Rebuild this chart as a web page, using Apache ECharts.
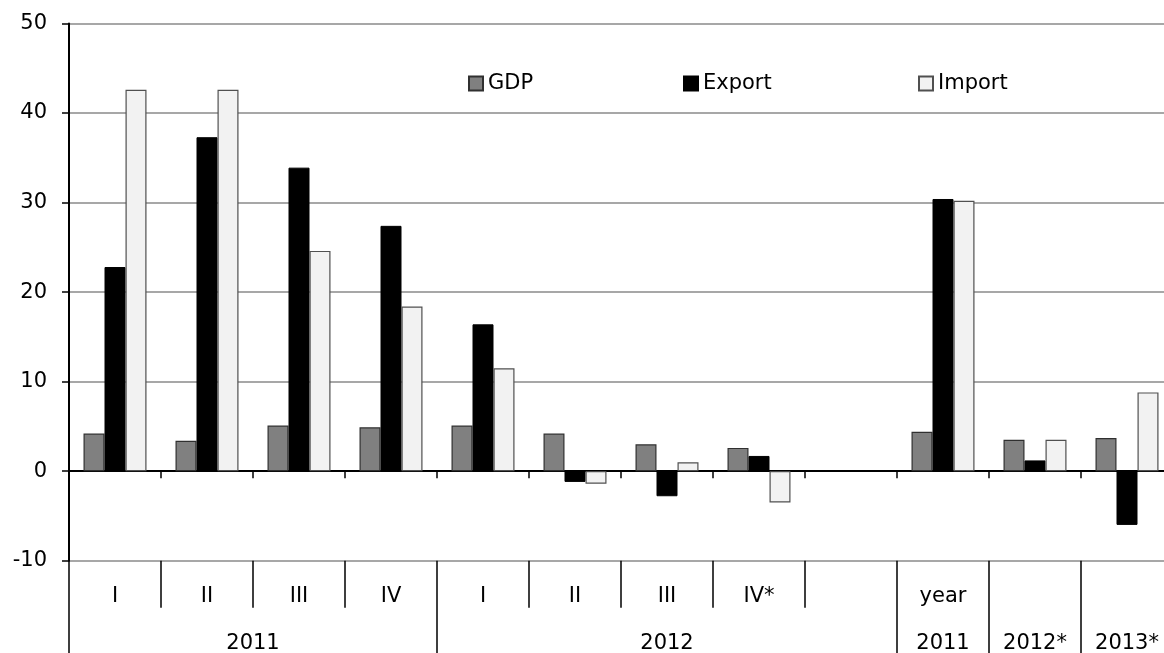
<!DOCTYPE html>
<html>
<head>
<meta charset="utf-8">
<script src="https://cdn.jsdelivr.net/npm/echarts@6/dist/echarts.min.js"></script>
<style>
html,body{margin:0;padding:0;background:#fff;overflow:hidden;}
#chart{width:1164px;height:653px;}
</style>
</head>
<body>
<div id="chart"></div>
<script>
// Data
const categories = ['I','II','III','IV','I','II','III','IV*','','year','',''];
const groupLabels = ['2011','2012','2011','2012*','2013*'];
const groupCenters = [2, 6.5, 9.5, 10.5, 11.5];
const groupBounds = [0, 4, 9, 10, 11];
const gdp     = [4.2, 3.4, 5.1, 4.9, 5.1, 4.2, 3.0, 2.6, null, 4.4, 3.5, 3.7];
const exportV = [22.8, 37.3, 33.9, 27.4, 16.4, -1.2, -2.8, 1.7, null, 30.4, 1.2, -6.0];
const importV = [42.6, 42.6, 24.6, 18.4, 11.5, -1.4, 1.0, -3.5, null, 30.2, 3.5, 8.8];
const yTicks = {min: -10, max: 50, interval: 10};

const FONT = 'DejaVu Sans';
const FS = 21;
const idx = categories.map((c, i) => i);

const chart = echarts.init(document.getElementById('chart'), null, {renderer: 'canvas'});
const legendBase = {
  top: 68, icon: 'rect', itemWidth: 14, itemHeight: 14, itemGap: 6,
  textStyle: {fontFamily: FONT, fontSize: FS, color: '#000'},
  selectedMode: false
};
chart.setOption({
  animation: false,
  backgroundColor: '#fff',
  textStyle: {fontFamily: FONT},
  grid: {left: 69, right: -9, top: 23.5, bottom: 92.3, outerBoundsMode: 'none', containLabel: false},
  legend: [
    Object.assign({}, legendBase, {left: 463, data: ['GDP']}),
    Object.assign({}, legendBase, {left: 678, data: ['Export']}),
    Object.assign({}, legendBase, {left: 913, data: ['Import']})
  ],
  xAxis: [
    {
      type: 'category', data: idx, position: 'bottom',
      axisLine: {show: true, onZero: true, lineStyle: {color: '#000', width: 2}},
      axisTick: {show: true, interval: 0, length: 7, lineStyle: {color: '#000', width: 1.5}},
      axisLabel: {show: false},
      splitLine: {show: false}
    },
    {
      type: 'category', data: idx, position: 'bottom', offset: 0,
      axisLine: {show: false, onZero: false},
      axisTick: {show: true, interval: 0, length: 47, lineStyle: {color: '#000', width: 1.5}},
      axisLabel: {show: true, interval: 0, margin: 25, fontFamily: FONT, fontSize: FS, color: '#000',
        formatter: (v, i) => categories[i]},
      splitLine: {show: false}
    },
    {
      type: 'value', min: 0, max: 12, position: 'bottom', offset: 0,
      axisLine: {show: false, onZero: false},
      axisTick: {show: true, customValues: groupBounds, length: 92.3, lineStyle: {color: '#000', width: 1.5}},
      axisLabel: {show: true, customValues: groupCenters, margin: 72, fontFamily: FONT, fontSize: FS, color: '#000',
        formatter: v => groupLabels[groupCenters.indexOf(v)]},
      splitLine: {show: false}
    }
  ],
  yAxis: {
    type: 'value', min: yTicks.min, max: yTicks.max, interval: yTicks.interval,
    axisLine: {show: true, lineStyle: {color: '#000', width: 2}},
    axisTick: {show: true, length: 7, lineStyle: {color: '#000', width: 1.5}},
    axisLabel: {margin: 22, fontFamily: FONT, fontSize: FS, color: '#000'},
    splitLine: {show: true, lineStyle: {color: '#8a8a8a', width: 1.5}}
  },
  series: [
    {name: 'GDP', type: 'bar', xAxisIndex: 0, data: gdp, barWidth: 21, barGap: '0%',
      itemStyle: {color: '#808080', borderColor: '#303030', borderWidth: 1.2}},
    {name: 'Export', type: 'bar', xAxisIndex: 0, data: exportV, barWidth: 21, barGap: '0%',
      itemStyle: {color: '#000000', borderColor: '#000000', borderWidth: 1}},
    {name: 'Import', type: 'bar', xAxisIndex: 0, data: importV, barWidth: 21, barGap: '0%',
      itemStyle: {color: '#f2f2f2', borderColor: '#505050', borderWidth: 1.2}}
  ]
});
</script>
</body>
</html>
